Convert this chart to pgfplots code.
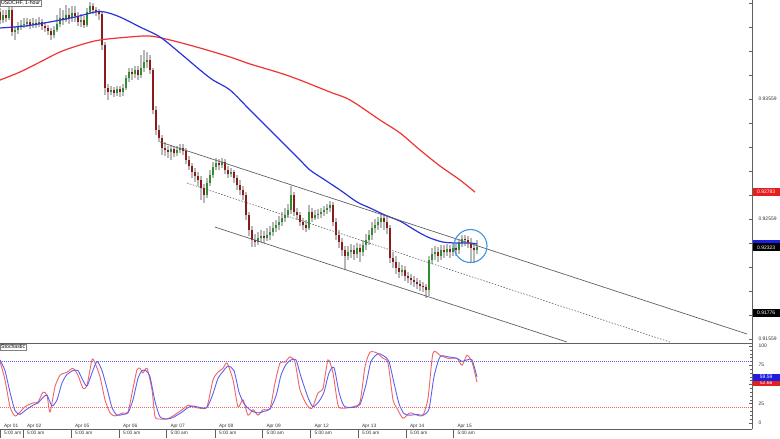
\documentclass[border=0pt]{standalone}
\usepackage{fontspec}
\setmainfont{Liberation Sans}
\usepackage{pgfplots}
\usepackage{pgfplotstable}
\pgfplotsset{compat=1.18}

\definecolor{maBlue}{HTML}{2A33D9}
\definecolor{maRed}{HTML}{EE3333}
\definecolor{upGreen}{HTML}{2F8F2F}
\definecolor{dnRed}{HTML}{8B1A1A}
\definecolor{wick}{HTML}{B8B8B8}
\definecolor{chan}{HTML}{606060}
\definecolor{stK}{HTML}{F06464}
\definecolor{stD}{HTML}{6060F0}
\definecolor{ring}{HTML}{3A96E0}
\definecolor{axisgray}{HTML}{606060}
\definecolor{boxRed}{HTML}{E51E1E}
\definecolor{boxBlue}{HTML}{1E1EE0}

% hourly candles, USDCHF (x = bar position)
\pgfplotstableread{
x o h l c
0 0.94284 0.94317 0.94184 0.94217
3 0.94217 0.94301 0.94192 0.94259
6 0.94259 0.94301 0.94201 0.94234
9 0.94234 0.94342 0.94217 0.94301
12 0.94301 0.94334 0.94084 0.94117
15 0.94117 0.94167 0.94051 0.94134
18 0.94134 0.94201 0.94101 0.94159
21 0.94159 0.94217 0.94134 0.94176
24 0.94176 0.94234 0.94151 0.94184
27 0.94184 0.94234 0.94159 0.94201
30 0.94201 0.94226 0.94142 0.94176
33 0.94176 0.94234 0.94151 0.94192
36 0.94192 0.94226 0.94151 0.94184
39 0.94184 0.94242 0.94159 0.94201
42 0.94201 0.94226 0.94134 0.94167
45 0.94167 0.94201 0.94117 0.94151
48 0.94151 0.94176 0.94092 0.94126
51 0.94126 0.94151 0.94051 0.94092
54 0.94092 0.94167 0.94067 0.94134
57 0.94134 0.94259 0.94117 0.94184
60 0.94184 0.94317 0.94159 0.94234
63 0.94234 0.94301 0.94176 0.94217
66 0.94217 0.94342 0.94201 0.94259
69 0.94259 0.94317 0.94184 0.94234
72 0.94234 0.94334 0.94201 0.94276
75 0.94276 0.94334 0.94201 0.94251
78 0.94251 0.94284 0.94167 0.94201
81 0.94201 0.94267 0.94159 0.94217
84 0.94217 0.94251 0.94151 0.94176
87 0.94176 0.94317 0.94159 0.94284
90 0.94284 0.94367 0.94267 0.94334
93 0.94334 0.94359 0.94267 0.94301
96 0.94301 0.94326 0.94251 0.94284
99 0.94284 0.94309 0.94217 0.94267
102 0.94267 0.94284 0.93967 0.94009
105 0.94009 0.94034 0.93592 0.93651
108 0.93651 0.93684 0.93551 0.93617
111 0.93617 0.93667 0.93592 0.93634
114 0.93634 0.93659 0.93576 0.93609
117 0.93609 0.93667 0.93584 0.93642
120 0.93642 0.93667 0.93576 0.93617
123 0.93617 0.93684 0.93584 0.93651
126 0.93651 0.93759 0.93634 0.93734
129 0.93734 0.93817 0.93701 0.93784
132 0.93784 0.93817 0.93717 0.93767
135 0.93767 0.93834 0.93734 0.93801
138 0.93801 0.93834 0.93717 0.93759
141 0.93759 0.93926 0.93734 0.93817
144 0.93817 0.93967 0.93784 0.93867
147 0.93867 0.93951 0.93817 0.93884
150 0.93884 0.93926 0.93767 0.93801
153 0.93801 0.93817 0.93434 0.93467
156 0.93467 0.93501 0.93259 0.93301
159 0.93301 0.93342 0.93201 0.93234
162 0.93234 0.93259 0.93092 0.93151
165 0.93151 0.93201 0.93084 0.93134
168 0.93134 0.93167 0.93067 0.93117
171 0.93117 0.93176 0.93051 0.93142
174 0.93142 0.93167 0.93076 0.93109
177 0.93109 0.93167 0.93084 0.93134
180 0.93134 0.93184 0.93109 0.93151
183 0.93151 0.93184 0.93092 0.93126
186 0.93126 0.93151 0.93017 0.93051
189 0.93051 0.93084 0.92967 0.93001
192 0.93001 0.93026 0.92901 0.92951
195 0.92951 0.92984 0.92867 0.92917
198 0.92917 0.92951 0.92834 0.92884
201 0.92884 0.92917 0.92717 0.92817
204 0.92817 0.92851 0.92692 0.92759
207 0.92759 0.92901 0.92734 0.92859
210 0.92859 0.92967 0.92834 0.92926
213 0.92926 0.93034 0.92901 0.92992
216 0.92992 0.93067 0.92967 0.93026
219 0.93026 0.93059 0.92967 0.93009
222 0.93009 0.93067 0.92984 0.93034
225 0.93034 0.93059 0.92934 0.92967
228 0.92967 0.93001 0.92901 0.92934
231 0.92934 0.92984 0.92909 0.92951
234 0.92951 0.92967 0.92859 0.92901
237 0.92901 0.92926 0.92801 0.92842
240 0.92842 0.92884 0.92759 0.92801
243 0.92801 0.92834 0.92717 0.92759
246 0.92759 0.92784 0.92551 0.92592
249 0.92592 0.92617 0.92417 0.92467
252 0.92467 0.92501 0.92326 0.92384
255 0.92384 0.92434 0.92326 0.92367
258 0.92367 0.92451 0.92342 0.92401
261 0.92401 0.92467 0.92367 0.92417
264 0.92417 0.92459 0.92359 0.92401
267 0.92401 0.92484 0.92376 0.92426
270 0.92426 0.92501 0.92384 0.92451
273 0.92451 0.92534 0.92417 0.92484
276 0.92484 0.92551 0.92451 0.92509
279 0.92509 0.92584 0.92467 0.92534
282 0.92534 0.92617 0.92501 0.92567
285 0.92567 0.92651 0.92534 0.92592
288 0.92592 0.92684 0.92567 0.92634
291 0.92634 0.92834 0.92601 0.92759
294 0.92759 0.92784 0.92584 0.92617
297 0.92617 0.92651 0.92551 0.92592
300 0.92592 0.92617 0.92501 0.92534
303 0.92534 0.92567 0.92467 0.92509
306 0.92509 0.92551 0.92451 0.92484
309 0.92484 0.92676 0.92467 0.92617
312 0.92617 0.92651 0.92534 0.92567
315 0.92567 0.92634 0.92551 0.92592
318 0.92592 0.92642 0.92559 0.92601
321 0.92601 0.92651 0.92567 0.92617
324 0.92617 0.92667 0.92584 0.92634
327 0.92634 0.92684 0.92601 0.92651
330 0.92651 0.92709 0.92617 0.92676
333 0.92676 0.92701 0.92501 0.92534
336 0.92534 0.92567 0.92384 0.92426
339 0.92426 0.92467 0.92317 0.92367
342 0.92367 0.92401 0.92251 0.92301
345 0.92301 0.92334 0.92134 0.92251
348 0.92251 0.92334 0.92217 0.92284
351 0.92284 0.92351 0.92234 0.92301
354 0.92301 0.92342 0.92217 0.92267
357 0.92267 0.92359 0.92234 0.92317
360 0.92317 0.92351 0.92201 0.92284
363 0.92284 0.92384 0.92251 0.92342
366 0.92342 0.92434 0.92301 0.92384
369 0.92384 0.92467 0.92342 0.92426
372 0.92426 0.92534 0.92384 0.92484
375 0.92484 0.92559 0.92442 0.92509
378 0.92509 0.92576 0.92467 0.92534
381 0.92534 0.92601 0.92484 0.92567
384 0.92567 0.92601 0.92467 0.92534
387 0.92534 0.92584 0.92434 0.92484
390 0.92484 0.92509 0.92192 0.92234
393 0.92234 0.92284 0.92151 0.92201
396 0.92201 0.92251 0.92101 0.92151
399 0.92151 0.92201 0.92067 0.92117
402 0.92117 0.92176 0.92084 0.92134
405 0.92134 0.92167 0.92042 0.92084
408 0.92084 0.92117 0.92026 0.92067
411 0.92067 0.92101 0.92009 0.92051
414 0.92051 0.92084 0.91992 0.92034
417 0.92034 0.92067 0.91976 0.92017
420 0.92017 0.92051 0.91959 0.92001
423 0.92001 0.92034 0.91951 0.91992
426 0.91992 0.92017 0.91901 0.91967
429 0.91967 0.92251 0.91917 0.92217
432 0.92217 0.92317 0.92184 0.92267
435 0.92267 0.92334 0.92217 0.92284
438 0.92284 0.92326 0.92201 0.92251
441 0.92251 0.92342 0.92217 0.92301
444 0.92301 0.92342 0.92234 0.92284
447 0.92284 0.92351 0.92251 0.92309
450 0.92309 0.92342 0.92234 0.92284
453 0.92284 0.92359 0.92251 0.92317
456 0.92317 0.92351 0.92251 0.92301
459 0.92301 0.92392 0.92267 0.92359
462 0.92359 0.92426 0.92326 0.92392
465 0.92392 0.92426 0.92334 0.92384
468 0.92384 0.92417 0.92317 0.92359
471 0.92359 0.92401 0.92201 0.92317
474 0.92317 0.92359 0.92192 0.92301
477 0.92301 0.92384 0.92267 0.92323
}\candles

% 100 SMA (blue) and 200 SMA (red)
\pgfplotstableread{
x p
0 0.94151
25 0.94167
50 0.94201
75 0.94242
95 0.94284
105 0.94284
120 0.94242
140 0.94159
160 0.94076
180 0.93942
200 0.93801
213 0.93717
230 0.93634
250 0.93467
265 0.93342
280 0.93217
300 0.93051
310 0.92967
325 0.92884
340 0.92801
357 0.92701
370 0.92651
385 0.92592
400 0.92542
410 0.92492
420 0.92442
430 0.92401
443 0.92367
457 0.92359
470 0.92359
477 0.92351
}\smaBlue

\pgfplotstableread{
x p
0 0.93717
20 0.93784
40 0.93867
60 0.93951
80 0.94009
100 0.94051
130 0.94076
150 0.94084
170 0.94051
200 0.93984
230 0.93909
250 0.93851
280 0.93776
300 0.93717
330 0.93617
350 0.93551
380 0.93384
400 0.93276
420 0.93134
440 0.93001
460 0.92884
475 0.92783
}\smaRed

% stochastic %K (red) and %D (blue)
\pgfplotstableread{
x v
0 80
5 56
10 21
15 9
20 14
25 21
33 26
38 27
43 40
47 36
50 14
55 47
60 62
67 66
73 71
78 62
83 45
87 49
92 82
95 78
100 60
105 30
110 13
115 9
123 13
128 14
133 45
137 69
140 71
143 65
147 71
152 43
155 8
160 5
167 5
173 9
182 17
188 23
193 21
200 19
207 21
213 56
218 66
223 71
227 78
233 56
238 21
243 30
248 10
253 17
258 10
263 17
270 19
275 52
280 78
285 79
290 86
295 79
300 43
307 23
312 19
318 39
323 45
328 82
333 65
338 23
343 19
353 21
360 27
365 73
370 92
377 91
383 84
388 78
393 30
397 19
403 6
410 13
417 10
423 10
428 32
433 91
440 88
448 84
457 84
462 75
467 88
472 79
477 53
}\stochK

\pgfplotstableread{
x v
0 82
5 68
10 40
15 16
20 11
25 16
33 23
38 26
43 33
47 36
52 22
57 30
62 52
67 63
73 68
78 68
83 55
87 48
92 65
97 80
102 68
107 45
112 20
117 10
123 11
128 13
133 30
138 58
142 68
146 68
150 60
155 28
160 8
167 5
173 7
182 14
188 20
193 22
200 20
207 20
213 38
218 58
223 67
228 74
234 68
239 40
244 25
249 18
254 14
259 13
264 15
270 18
276 35
281 62
286 76
291 82
296 82
301 60
308 33
313 21
319 28
324 40
329 65
334 72
339 40
344 22
353 20
360 24
366 50
371 80
378 90
384 87
389 80
394 52
399 25
404 12
410 10
417 11
423 10
429 18
434 60
440 86
448 86
457 84
462 80
467 82
472 82
477 59.59
}\stochD

\pgfplotsset{
  candle/.style={only marks, mark=*, mark size=0pt,
    mark options={draw=none, fill=none}, forget plot,
    error bars/y dir=plus, error bars/y explicit, error bars/error mark=none},
}

\begin{document}
\begin{tikzpicture}
\useasboundingbox (0pt,0pt) rectangle (780pt,-439pt);

% ---- price panel ----
\begin{axis}[
    name=main,
    at={(0pt,0pt)}, anchor=north west,
    scale only axis, width=752pt, height=343pt,
    xmin=0, xmax=752, ymin=0.91526, ymax=0.94384,
    axis x line*=bottom, axis y line*=right,
    axis line style={axisgray, line width=0.8pt},
    xtick=\empty,
    ytick={0.91559,0.91759,0.91959,0.92159,0.92359,0.92559,0.92759,0.92959,0.93159,0.93359,0.93559,0.93759,0.93959,0.94159,0.94359},
    yticklabels={0.91559,,,,,0.92559,,,,,0.93559,,,,},
    scaled y ticks=false,
    tick align=inside, major tick length=3pt,
    tick style={axisgray, line width=0.5pt},
    yticklabel style={anchor=west, xshift=3pt, font=\fontsize{5}{6}\selectfont, text=black!80},
    clip=false,
  ]
  % wicks
  \addplot[candle, error bars/error bar style={draw=wick, line width=2.1pt}]
    table[x=x, y=l, y error expr=\thisrow{h}-\thisrow{l}] {\candles};
  % bullish bodies
  \addplot[candle, restrict expr to domain={\thisrow{c}-\thisrow{o}}{0:1},
    error bars/error bar style={draw=upGreen, line width=1.5pt}]
    table[x=x, y=o, y error expr=\thisrow{c}-\thisrow{o}] {\candles};
  % bearish bodies
  \addplot[candle, restrict expr to domain={\thisrow{o}-\thisrow{c}}{0:1},
    error bars/error bar style={draw=dnRed, line width=1.5pt}]
    table[x=x, y=c, y error expr=\thisrow{o}-\thisrow{c}] {\candles};

  % moving averages
  \addplot[maRed, line width=1.2pt, smooth, tension=0.5] table[x=x, y=p] {\smaRed};
  \addplot[maBlue, line width=1.2pt, smooth, tension=0.5] table[x=x, y=p] {\smaBlue};

  % descending channel
  \addplot[chan, line width=0.7pt] coordinates {(160,0.93201) (747,0.91601)};
  \addplot[chan, line width=0.6pt, dash pattern=on 1.5pt off 1.5pt] coordinates {(187,0.92859) (670,0.91534)};
  \addplot[chan, line width=0.7pt] coordinates {(215,0.92492) (567,0.91534)};

  % highlight ring
  \addplot[only marks, mark=o, mark size=16.5pt, mark options={draw=ring, line width=1.1pt}] coordinates {(470.5,0.92334)};

  \node[draw=gray, fill=white, inner sep=1pt, anchor=north west,
        font=\fontsize{5.2}{6}\selectfont] at (rel axis cs:0,1) {USDCHF, 1-hour};

  % price flags on the right scale
  \node[fill=boxRed, text=white, minimum width=27pt, minimum height=8pt, inner sep=0pt,
        anchor=west, font=\fontsize{5}{6}\selectfont] at (axis cs:752.5,0.92783) {0.92783};
  \node[fill=boxBlue, minimum width=27pt, minimum height=8pt, inner sep=0pt,
        anchor=west] at (axis cs:752.5,0.92351) {};
  \node[fill=black, text=white, minimum width=27pt, minimum height=8pt, inner sep=0pt,
        anchor=west, font=\fontsize{5}{6}\selectfont] at (axis cs:752.5,0.92323) {0.92323};
  \node[fill=black, text=white, minimum width=27pt, minimum height=8pt, inner sep=0pt,
        anchor=west, font=\fontsize{5}{6}\selectfont] at (axis cs:752.5,0.91776) {0.91776};
\end{axis}

% ---- stochastic panel ----
\begin{axis}[
    at={(main.south west)}, anchor=north west,
    scale only axis, width=752pt, height=86pt,
    xmin=0, xmax=752, ymin=-8, ymax=104,
    axis x line*=bottom, axis y line*=right,
    axis line style={axisgray, line width=0.8pt},
    ytick={0,25,50,75,100},
    yticklabels={0,25,,75,100},
    minor ytick={5,10,15,20,30,35,40,45,55,60,65,70,80,85,90,95},
    xtick=\empty,
    extra x ticks={0,23,71,119,166.5,215,262.5,310.5,358,406,453.5},
    extra x tick labels={{Apr 01\\5:00 am},{Apr 02\\5:00 am},{Apr 05\\5:00 am},{Apr 06\\5:00 am},{Apr 07\\5:00 am},{Apr 08\\5:00 am},{Apr 09\\5:00 am},{Apr 12\\5:00 am},{Apr 13\\5:00 am},{Apr 14\\5:00 am},{Apr 15\\5:00 am}},
    extra x tick style={major tick length=9pt, tick align=inside,
        major tick style={yshift=-9pt, draw=axisgray, line width=0.5pt},
        tick label style={anchor=west, align=left, xshift=0.5pt, yshift=-0.5pt,
            font=\fontsize{4.8}{7.5}\selectfont, text=black!80}},
    tick align=inside, major tick length=3pt, minor tick length=1.8pt,
    tick style={axisgray, line width=0.5pt},
    yticklabel style={anchor=west, xshift=3pt, font=\fontsize{5}{6}\selectfont, text=black!80},
    clip=false,
  ]
  \addplot[stD, line width=0.6pt, dash pattern=on 1pt off 1pt] coordinates {(0,80) (752,80)};
  \addplot[stK, line width=0.6pt, dash pattern=on 1pt off 1pt] coordinates {(0,20) (752,20)};
  \addplot[stK, line width=0.9pt, smooth, tension=0.4] table[x=x, y=v] {\stochK};
  \addplot[stD, line width=0.9pt, smooth, tension=0.4] table[x=x, y=v] {\stochD};

  \node[draw=gray, fill=white, inner sep=1pt, anchor=north west,
        font=\fontsize{5.2}{6}\selectfont] at ([yshift=-1pt]rel axis cs:0,1) {Stochastic};

  \node[fill=boxRed, text=white, minimum width=27pt, minimum height=7pt, inner sep=0pt,
        anchor=west, font=\fontsize{5}{6}\selectfont] at (axis cs:752.5,52.6) {52.66};
  \node[fill=boxBlue, text=white, minimum width=27pt, minimum height=7pt, inner sep=0pt,
        anchor=west, font=\fontsize{5}{6}\selectfont] at (axis cs:752.5,59.59) {59.59};
\end{axis}
\end{tikzpicture}
\end{document}
